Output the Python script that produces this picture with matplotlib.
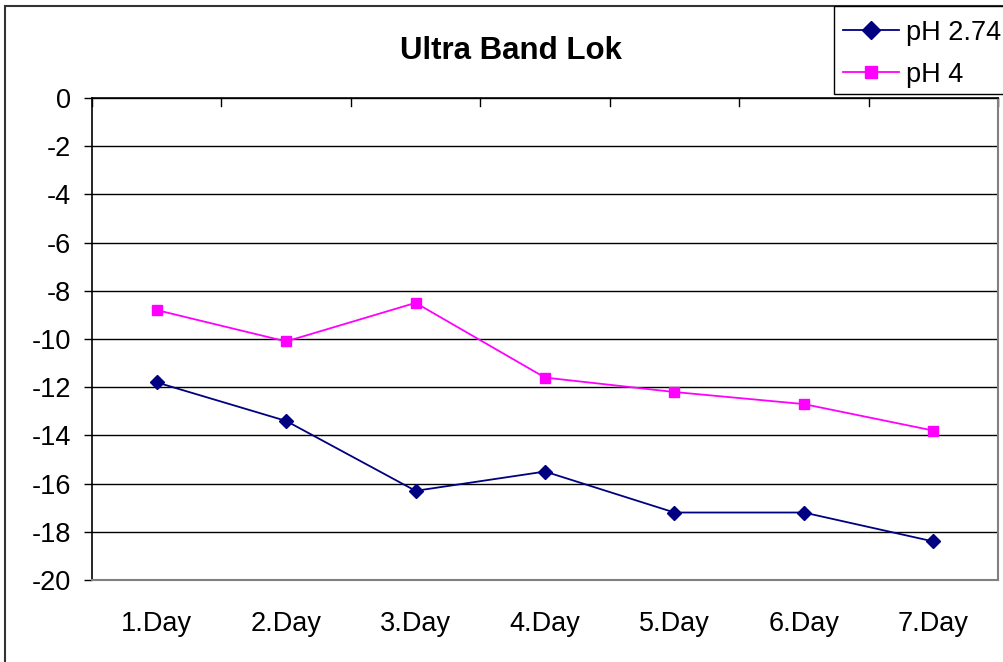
import matplotlib
matplotlib.use("Agg")
import matplotlib.pyplot as plt
from matplotlib.patches import Rectangle
from matplotlib.lines import Line2D

categories = ["1.Day", "2.Day", "3.Day", "4.Day", "5.Day", "6.Day", "7.Day"]
ph274 = [-11.8, -13.4, -16.3, -15.5, -17.2, -17.2, -18.4]
ph4 = [-8.8, -10.1, -8.5, -11.6, -12.2, -12.7, -13.8]
yticks = list(range(0, -21, -2))

W, H = 1004, 662
plt.rcParams['font.family'] = ['Liberation Sans', 'DejaVu Sans']
fig = plt.figure(figsize=(W / 100, H / 100), dpi=100)

def fx(x):
    return x / W

def fy(y):
    return 1 - y / H

# outer chart border
fig.patches.append(Rectangle((fx(5), fy(700)), fx(1100), fy(6) - fy(700),
                             transform=fig.transFigure, fill=False,
                             edgecolor='#333333', linewidth=1.5, zorder=0))

L, R, T, B = 92, 998, 98, 580
ax = fig.add_axes([fx(L), fy(B), fx(R - L), fy(T) - fy(B)])
n = len(categories)
xs = list(range(n))
ax.set_xlim(-0.5, n - 0.5)
ax.set_ylim(-20, 0)

for y in yticks:
    ax.axhline(y, color='black', linewidth=1, zorder=1)

ax.plot(xs, ph274, color='#000080', marker='D', markersize=7.5, linewidth=1.3,
        label='pH 2.74', zorder=3)
ax.plot(xs, ph4, color='#FF00FF', marker='s', markersize=7.5, linewidth=1.3,
        label='pH 4', zorder=3)

ax.set_yticks(yticks)
ax.set_yticklabels([str(v) for v in yticks], fontsize=19.5)
ax.tick_params(axis='y', direction='out', length=6, width=1, pad=9)
ax.set_xticks(xs)
ax.set_xticklabels(categories, fontsize=19.5)
ax.tick_params(axis='x', length=0, pad=22)
# category separator ticks at top (x-axis crosses at 0)
for i in range(n + 1):
    ax.plot([i - 0.5, i - 0.5], [0, -0.35], color='black', linewidth=1,
            clip_on=False, zorder=2)

for s in ['top', 'left']:
    ax.spines[s].set_color('black')
    ax.spines[s].set_linewidth(1.2)
for s in ['right', 'bottom']:
    ax.spines[s].set_color('#808080')
    ax.spines[s].set_linewidth(1.5)

fig.text(fx(511), fy(51), 'Ultra Band Lok', fontsize=22.5, fontweight='bold',
         ha='center', va='center')

# legend box
fig.patches.append(Rectangle((fx(834), fy(94)), fx(300), fy(6) - fy(94),
                             transform=fig.transFigure, fill=True,
                             facecolor='white', edgecolor='black',
                             linewidth=1, zorder=5))
for yy, col, mk, ms, lab in [(30, '#000080', 'D', 9, 'pH 2.74'),
                             (72, '#FF00FF', 's', 8.5, 'pH 4')]:
    fig.lines.append(Line2D([fx(843), fx(899)], [fy(yy), fy(yy)],
                            transform=fig.transFigure, color=col, linewidth=1.3,
                            zorder=6))
    fig.lines.append(Line2D([fx(871)], [fy(yy)], transform=fig.transFigure,
                            color=col, marker=mk, markersize=ms, linestyle='none',
                            zorder=7))
    fig.text(fx(906), fy(yy + 3), lab, fontsize=19.5, ha='left', va='center', zorder=8)

fig.savefig('out.png', dpi=100)
